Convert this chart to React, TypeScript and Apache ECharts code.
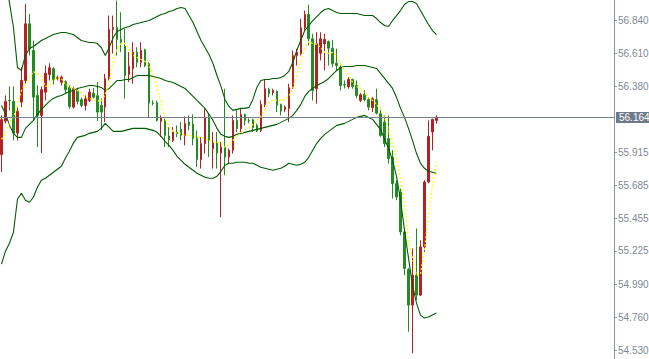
import { useEffect, useRef } from "react";
import * as echarts from "echarts";

const openPrices = [
  55.900, 56.135, 56.280, 56.273, 56.051, 56.268, 56.420, 56.817, 56.630, 56.315,
  56.175, 56.338, 56.462, 56.502, 56.434, 56.408, 56.411, 56.369, 56.233, 56.350,
  56.285, 56.245, 56.280, 56.331, 56.313, 56.245, 56.233, 56.432, 56.777, 56.793,
  56.707, 56.660, 56.462, 56.502, 56.618, 56.548, 56.635, 56.537, 56.261, 56.264,
  56.133, 56.140, 56.030, 56.000, 56.058, 56.077, 56.035, 56.128, 56.112, 56.016,
  55.865, 55.977, 56.159, 55.942, 55.981, 55.911, 55.953, 55.883, 55.930, 56.140,
  56.082, 56.180, 56.140, 56.145, 56.105, 56.070, 56.252, 56.355, 56.336, 56.345,
  56.252, 56.215, 56.222, 56.369, 56.595, 56.607, 56.789, 56.882, 56.712, 56.362,
  56.611, 56.677, 56.693, 56.646, 56.541, 56.513, 56.392, 56.378, 56.427, 56.385,
  56.280, 56.322, 56.285, 56.229, 56.285, 56.187, 56.128, 56.012, 55.883, 55.697,
  55.638, 55.358, 55.095, 54.845, 55.055, 54.915, 55.253, 55.708, 56.058, 56.140,
];

const closePrices = [
  56.145, 56.273, 56.277, 56.051, 56.203, 56.420, 56.817, 56.642, 56.303, 56.175,
  56.355, 56.471, 56.509, 56.427, 56.441, 56.443, 56.355, 56.238, 56.362, 56.273,
  56.245, 56.292, 56.338, 56.303, 56.198, 56.198, 56.432, 56.777, 56.791, 56.707,
  56.688, 56.455, 56.520, 56.618, 56.548, 56.630, 56.525, 56.261, 56.258, 56.140,
  56.161, 56.035, 56.005, 56.058, 56.047, 56.035, 56.117, 56.105, 56.012, 55.865,
  55.977, 56.159, 56.000, 55.988, 55.911, 55.953, 55.883, 55.930, 56.140, 56.082,
  56.180, 56.140, 56.136, 56.089, 56.065, 56.252, 56.362, 56.327, 56.350, 56.245,
  56.205, 56.233, 56.369, 56.595, 56.618, 56.789, 56.882, 56.712, 56.350, 56.677,
  56.712, 56.707, 56.646, 56.537, 56.525, 56.385, 56.388, 56.427, 56.378, 56.315,
  56.320, 56.285, 56.233, 56.292, 56.191, 56.035, 55.977, 55.872, 55.697, 55.603,
  55.358, 55.102, 54.845, 55.055, 54.915, 55.253, 55.708, 56.028, 56.147, 56.163,
];

const highPrices = [
  56.175, 56.315, 56.378, 56.378, 56.231, 56.513, 56.957, 56.887, 56.700, 56.385,
  56.378, 56.525, 56.541, 56.513, 56.455, 56.455, 56.420, 56.385, 56.373, 56.369,
  56.299, 56.315, 56.362, 56.369, 56.408, 56.294, 56.467, 56.875, 56.875, 56.980,
  56.898, 56.782, 56.618, 56.688, 56.653, 56.688, 56.642, 56.548, 56.280, 56.280,
  56.175, 56.152, 56.093, 56.093, 56.105, 56.128, 56.168, 56.175, 56.182, 56.070,
  56.023, 56.222, 56.187, 56.058, 56.058, 55.988, 56.362, 55.942, 56.175, 56.210,
  56.222, 56.187, 56.154, 56.152, 56.117, 56.280, 56.425, 56.369, 56.362, 56.350,
  56.257, 56.245, 56.397, 56.630, 56.642, 56.852, 56.910, 56.952, 56.747, 56.758,
  56.758, 56.747, 56.700, 56.705, 56.642, 56.537, 56.420, 56.443, 56.432, 56.420,
  56.331, 56.350, 56.303, 56.303, 56.362, 56.222, 56.175, 56.175, 55.930, 55.720,
  55.662, 55.382, 55.104, 55.242, 55.382, 55.300, 55.720, 56.140, 56.152, 56.175,
];

const lowPrices = [
  55.778, 56.119, 56.210, 56.000, 56.000, 56.233, 56.399, 56.595, 56.140, 55.953,
  55.911, 56.280, 56.420, 56.392, 56.420, 56.385, 56.327, 56.222, 56.222, 56.252,
  56.233, 56.210, 56.268, 56.294, 56.135, 56.070, 56.128, 56.420, 56.609, 56.595,
  56.618, 56.292, 56.408, 56.397, 56.513, 56.513, 56.513, 56.163, 56.245, 56.133,
  56.023, 55.953, 55.953, 55.988, 56.023, 56.000, 55.965, 56.070, 55.965, 55.813,
  55.802, 55.907, 55.883, 55.802, 55.802, 55.461, 55.755, 55.837, 55.907, 56.058,
  56.058, 56.105, 56.119, 56.058, 56.058, 56.058, 56.233, 56.303, 56.315, 56.198,
  56.175, 56.198, 56.128, 56.362, 56.525, 56.595, 56.770, 56.665, 56.280, 56.257,
  56.560, 56.490, 56.525, 56.513, 56.490, 56.350, 56.364, 56.362, 56.362, 56.294,
  56.268, 56.273, 56.210, 56.198, 56.182, 56.023, 55.953, 55.837, 55.592, 55.580,
  55.335, 55.055, 54.658, 54.507, 54.880, 54.908, 55.218, 55.699, 55.930, 56.117,
];

const upperBand = [
  57.260, 57.120, 56.966, 56.791, 56.511, 56.490, 56.595, 56.644, 56.658, 56.679,
  56.700, 56.714, 56.728, 56.742, 56.749, 56.756, 56.756, 56.749, 56.742, 56.721,
  56.700, 56.693, 56.686, 56.686, 56.679, 56.651, 56.595, 56.651, 56.721, 56.763,
  56.777, 56.791, 56.798, 56.812, 56.819, 56.826, 56.833, 56.840, 56.854, 56.868,
  56.882, 56.889, 56.903, 56.910, 56.924, 56.931, 56.924, 56.875, 56.826, 56.763,
  56.700, 56.651, 56.602, 56.539, 56.455, 56.378, 56.287, 56.238, 56.210, 56.217,
  56.224, 56.224, 56.231, 56.287, 56.371, 56.420, 56.427, 56.427, 56.434, 56.434,
  56.441, 56.455, 56.483, 56.546, 56.630, 56.700, 56.770, 56.805, 56.840, 56.868,
  56.896, 56.917, 56.924, 56.910, 56.896, 56.889, 56.889, 56.889, 56.889, 56.889,
  56.882, 56.875, 56.875, 56.875, 56.854, 56.826, 56.805, 56.798, 56.840, 56.875,
  56.910, 56.952, 56.973, 56.973, 56.959, 56.910, 56.861, 56.812, 56.770, 56.742,
];

const middleBand = [
  56.245, 56.189, 56.105, 56.049, 56.021, 56.021, 56.084, 56.112, 56.140, 56.182,
  56.217, 56.245, 56.273, 56.294, 56.308, 56.315, 56.329, 56.343, 56.350, 56.364,
  56.371, 56.378, 56.385, 56.385, 56.378, 56.371, 56.350, 56.364, 56.392, 56.420,
  56.420, 56.427, 56.427, 56.441, 56.455, 56.455, 56.455, 56.455, 56.448, 56.441,
  56.434, 56.420, 56.413, 56.406, 56.392, 56.378, 56.364, 56.336, 56.308, 56.280,
  56.252, 56.224, 56.182, 56.140, 56.084, 56.042, 56.028, 56.021, 56.028, 56.042,
  56.049, 56.056, 56.063, 56.070, 56.077, 56.084, 56.091, 56.098, 56.105, 56.112,
  56.126, 56.140, 56.154, 56.175, 56.210, 56.252, 56.308, 56.343, 56.364, 56.385,
  56.399, 56.413, 56.434, 56.462, 56.490, 56.511, 56.518, 56.518, 56.518, 56.525,
  56.525, 56.525, 56.518, 56.511, 56.504, 56.469, 56.434, 56.399, 56.364, 56.301,
  56.224, 56.161, 56.084, 56.000, 55.909, 55.839, 55.804, 55.783, 55.776, 55.769,
];

const lowerBand = [
  55.132, 55.223, 55.279, 55.356, 55.587, 55.629, 55.580, 55.566, 55.601, 55.671,
  55.720, 55.734, 55.755, 55.776, 55.797, 55.818, 55.874, 55.923, 55.979, 56.021,
  56.028, 56.035, 56.049, 56.056, 56.063, 56.084, 56.119, 56.091, 56.063, 56.063,
  56.063, 56.070, 56.077, 56.084, 56.084, 56.084, 56.084, 56.077, 56.070, 56.056,
  56.028, 55.993, 55.965, 55.930, 55.888, 55.860, 55.832, 55.811, 55.790, 55.769,
  55.755, 55.741, 55.734, 55.734, 55.748, 55.783, 55.825, 55.839, 55.839, 55.846,
  55.846, 55.846, 55.839, 55.839, 55.825, 55.811, 55.804, 55.797, 55.790, 55.797,
  55.804, 55.818, 55.839, 55.832, 55.825, 55.832, 55.846, 55.881, 55.930, 55.979,
  56.014, 56.042, 56.063, 56.084, 56.105, 56.112, 56.119, 56.133, 56.147, 56.161,
  56.168, 56.175, 56.161, 56.147, 56.112, 56.077, 56.007, 55.944, 55.860, 55.748,
  55.580, 55.370, 55.174, 54.985, 54.859, 54.775, 54.754, 54.761, 54.775, 54.789,
];

const dottedAverage = [
  56.007, 56.049, 56.126, 56.161, 56.252, 56.350, 56.392, 56.434, 56.483, 56.462,
  56.448, 56.378, 56.385, 56.420, 56.441, 56.434, 56.392, 56.378, 56.364, 56.350,
  56.336, 56.301, 56.294, 56.287, 56.280, 56.273, 56.322, 56.406, 56.560, 56.644,
  56.679, 56.679, 56.630, 56.595, 56.581, 56.567, 56.553, 56.525, 56.455, 56.364,
  56.259, 56.154, 56.091, 56.063, 56.049, 56.049, 56.035, 56.035, 56.028, 56.021,
  56.021, 56.014, 56.000, 55.986, 55.986, 55.979, 55.951, 55.972, 56.000, 56.028,
  56.049, 56.070, 56.091, 56.112, 56.140, 56.168, 56.224, 56.266, 56.280, 56.280,
  56.280, 56.287, 56.308, 56.364, 56.455, 56.560, 56.644, 56.693, 56.679, 56.672,
  56.651, 56.616, 56.609, 56.616, 56.595, 56.532, 56.490, 56.455, 56.406, 56.378,
  56.364, 56.329, 56.301, 56.280, 56.252, 56.217, 56.161, 56.077, 55.972, 55.874,
  55.720, 55.559, 55.300, 55.174, 55.055, 55.062, 55.230, 55.475, 55.685, 55.846,
];

const yTickLabels = [54.53, 54.76, 54.99, 55.225, 55.455, 55.685, 55.915, 56.38, 56.61, 56.84];
const lastPrice = 56.164;
const slotCount = 154;

const bullColor = "#b22222";
const bearColor = "#228b22";
const bandColor = "#005c00";

export default function App() {
  const ref = useRef<HTMLDivElement>(null);

  useEffect(() => {
    const chart = echarts.init(ref.current as HTMLDivElement, null, { renderer: "svg" });
    const categories = Array.from({ length: slotCount }, (_, i) => String(i));
    const candles = openPrices.map((o, i) => [o, closePrices[i], lowPrices[i], highPrices[i]]);
    const bandLine = (name: string, data: number[]) => ({
      name,
      type: "line",
      data,
      symbol: "none",
      showSymbol: false,
      silent: true,
      z: 3,
      lineStyle: { color: bandColor, width: 1.1 },
    });

    chart.setOption({
      animation: false,
      backgroundColor: "#ffffff",
      grid: { left: -0.5, right: 35, top: 0, bottom: 0, outerBoundsMode: "none", containLabel: false },
      xAxis: {
        type: "category",
        data: categories,
        boundaryGap: true,
        show: false,
      },
      yAxis: {
        type: "value",
        position: "right",
        min: 54.467,
        max: 56.984,
        axisLine: { show: true, lineStyle: { color: "#8a94a4", width: 1 } },
        axisTick: {
          show: true,
          length: 3,
          customValues: yTickLabels,
          lineStyle: { color: "#8a94a4" },
        },
        axisLabel: {
          customValues: yTickLabels,
          formatter: (v: number) => v.toFixed(3),
          color: "#7f8896",
          fontSize: 10,
          fontFamily: "Liberation Sans",
          margin: 4,
        },
        splitLine: { show: false },
      },
      series: [
        {
          name: "price",
          type: "candlestick",
          data: candles,
          barWidth: 2,
          z: 2,
          itemStyle: {
            color: bullColor,
            color0: bearColor,
            borderColor: bullColor,
            borderColor0: bearColor,
            borderColorDoji: bearColor,
            borderWidth: 1,
          },
          markLine: {
            silent: true,
            symbol: ["none", "none"],
            animation: false,
            lineStyle: { color: "#77828f", width: 1, type: "solid" },
            label: {
              show: true,
              position: "end",
              distance: 2,
              formatter: () => lastPrice.toFixed(3),
              color: "#ffffff",
              backgroundColor: "#6e7a8a",
              fontSize: 10,
              fontFamily: "Liberation Sans",
              lineHeight: 11,
              padding: [0, 2, 0, 3],
            },
            data: [{ yAxis: lastPrice }],
          },
        },
        bandLine("upper", upperBand),
        bandLine("middle", middleBand),
        bandLine("lower", lowerBand),
        {
          name: "average",
          type: "line",
          data: dottedAverage,
          symbol: "none",
          showSymbol: false,
          silent: true,
          z: 4,
          lineStyle: { color: "#ffff00", width: 1.3, type: [2, 2] },
        },
      ],
    });

    return () => chart.dispose();
  }, []);

  return (
    <div
      ref={ref}
      style={{ position: "fixed", left: 0, top: 0, width: 649, height: 359, background: "#ffffff" }}
    />
  );
}
